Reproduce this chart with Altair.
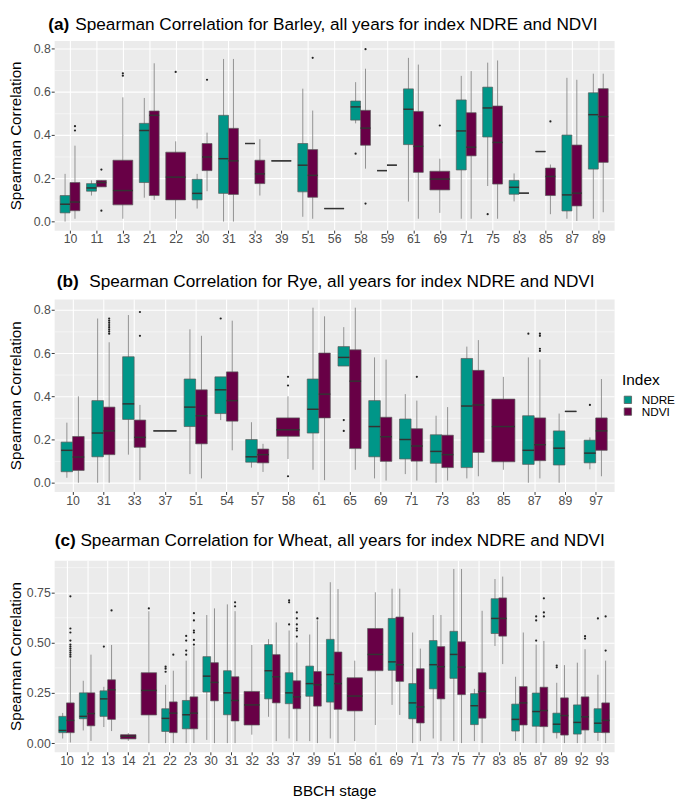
import altair as alt
import pandas as pd

TEAL = "#009688"
PURPLE = "#680046"
FONT = "Liberation Sans"

# ---------------- Panel (a) Barley ----------------
A_STAGES = ["10", "11", "13", "21", "22", "30", "31", "33", "39", "51", "56",
            "58", "59", "61", "69", "71", "75", "83", "85", "87", "89"]
A_STAGE = ["10", "10", "11", "11", "13", "21", "21", "22", "30", "30", "31", "31",
           "33", "33", "39", "51", "51", "56", "58", "58", "59", "59", "61", "61",
           "69", "71", "71", "75", "75", "83", "83", "85", "85", "87", "87", "89", "89"]
A_INDEX = ["NDRE", "NDVI", "NDRE", "NDVI", "NDVI", "NDRE", "NDVI", "NDVI", "NDRE", "NDVI",
           "NDRE", "NDVI", "NDRE", "NDVI", "NDRE", "NDRE", "NDVI", "NDRE", "NDRE", "NDVI",
           "NDRE", "NDVI", "NDRE", "NDVI", "NDVI", "NDRE", "NDVI", "NDRE", "NDVI", "NDRE",
           "NDVI", "NDRE", "NDVI", "NDRE", "NDVI", "NDRE", "NDVI"]
A_LO = [0.000, 0.013, 0.120, 0.160, 0.013, 0.110, 0.100, 0.013, 0.060, 0.140, 0.000, 0.000,
        0.360, 0.120, 0.280, 0.022, 0.013, 0.060, 0.453, 0.244, 0.235, 0.260, 0.092, 0.013,
        0.040, 0.013, 0.013, 0.164, 0.013, 0.093, 0.131, 0.323, 0.034, 0.013, 0.003, 0.013, 0.043]
A_Q1 = [0.040, 0.050, 0.140, 0.160, 0.077, 0.180, 0.120, 0.100, 0.100, 0.235, 0.130, 0.125,
        0.360, 0.175, 0.280, 0.137, 0.112, 0.060, 0.468, 0.352, 0.235, 0.260, 0.355, 0.227,
        0.146, 0.238, 0.303, 0.390, 0.173, 0.126, 0.131, 0.323, 0.120, 0.049, 0.072, 0.242, 0.273]
A_MED = [0.080, 0.090, 0.155, 0.180, 0.143, 0.420, 0.490, 0.205, 0.130, 0.298, 0.290, 0.280,
         0.360, 0.220, 0.280, 0.260, 0.213, 0.060, 0.529, 0.431, 0.235, 0.260, 0.518, 0.347,
         0.196, 0.418, 0.343, 0.524, 0.365, 0.158, 0.131, 0.323, 0.208, 0.123, 0.131, 0.493, 0.484]
A_Q3 = [0.120, 0.180, 0.175, 0.190, 0.283, 0.453, 0.510, 0.320, 0.195, 0.360, 0.490, 0.430,
        0.360, 0.283, 0.280, 0.360, 0.332, 0.060, 0.556, 0.513, 0.235, 0.260, 0.612, 0.508,
        0.232, 0.561, 0.502, 0.620, 0.533, 0.190, 0.131, 0.323, 0.247, 0.399, 0.353, 0.594, 0.613]
A_HI = [0.220, 0.350, 0.190, 0.190, 0.573, 0.570, 0.730, 0.370, 0.220, 0.410, 0.750, 0.750,
        0.360, 0.380, 0.280, 0.613, 0.512, 0.060, 0.643, 0.705, 0.235, 0.260, 0.755, 0.724,
        0.290, 0.672, 0.694, 0.733, 0.743, 0.222, 0.131, 0.323, 0.263, 0.663, 0.654, 0.682, 0.682]
A_OUT_STAGE = ["10", "10", "11", "11", "13", "13", "22", "30", "51", "58", "58", "58", "69", "75", "85"]
A_OUT_INDEX = ["NDVI", "NDVI", "NDVI", "NDVI", "NDVI", "NDVI", "NDVI", "NDVI", "NDVI",
               "NDRE", "NDVI", "NDVI", "NDVI", "NDRE", "NDVI"]
A_OUT_VAL = [0.44, 0.42, 0.24, 0.05, 0.684, 0.673, 0.69, 0.654, 0.755, 0.313, 0.795, 0.083,
             0.443, 0.034, 0.462]

# ---------------- Panel (b) Rye ----------------
B_STAGES = ["10", "31", "33", "37", "51", "54", "57", "58", "61", "65", "69", "71",
            "73", "83", "85", "87", "89", "97"]
B_STAGE = ["10", "10", "31", "31", "33", "33", "37", "51", "51", "54", "54", "57", "57",
           "58", "61", "61", "65", "65", "69", "69", "71", "71", "73", "73", "83", "83",
           "85", "87", "87", "89", "89", "97", "97"]
B_INDEX = ["NDRE", "NDVI", "NDRE", "NDVI", "NDRE", "NDVI", "NDRE", "NDRE", "NDVI", "NDRE",
           "NDVI", "NDRE", "NDVI", "NDVI", "NDRE", "NDVI", "NDRE", "NDVI", "NDRE", "NDVI",
           "NDRE", "NDVI", "NDRE", "NDVI", "NDRE", "NDVI", "NDVI", "NDRE", "NDVI", "NDRE",
           "NDVI", "NDRE", "NDVI"]
B_LO = [0.023, 0.000, 0.000, 0.000, 0.130, 0.012, 0.240, 0.040, 0.020, 0.290, 0.150, 0.070,
        0.050, 0.110, 0.060, 0.012, 0.540, 0.060, 0.020, 0.010, 0.040, 0.010, 0.000, 0.010,
        0.020, 0.030, 0.060, 0.000, 0.020, 0.000, 0.330, 0.062, 0.030]
B_Q1 = [0.051, 0.057, 0.120, 0.130, 0.293, 0.164, 0.240, 0.260, 0.180, 0.320, 0.285, 0.095,
        0.092, 0.215, 0.230, 0.300, 0.540, 0.158, 0.120, 0.099, 0.110, 0.100, 0.090, 0.070,
        0.070, 0.140, 0.097, 0.085, 0.102, 0.082, 0.330, 0.092, 0.150]
B_MED = [0.150, 0.119, 0.230, 0.240, 0.365, 0.210, 0.240, 0.350, 0.310, 0.430, 0.380, 0.120,
         0.130, 0.245, 0.340, 0.410, 0.580, 0.470, 0.260, 0.213, 0.200, 0.170, 0.145, 0.130,
         0.355, 0.360, 0.260, 0.150, 0.176, 0.160, 0.330, 0.137, 0.240]
B_Q3 = [0.188, 0.214, 0.380, 0.350, 0.583, 0.290, 0.240, 0.480, 0.430, 0.490, 0.513, 0.200,
        0.156, 0.300, 0.480, 0.600, 0.630, 0.615, 0.380, 0.303, 0.295, 0.250, 0.222, 0.220,
        0.575, 0.520, 0.387, 0.310, 0.300, 0.240, 0.330, 0.197, 0.300]
B_HI = [0.278, 0.400, 0.760, 0.650, 0.776, 0.360, 0.240, 0.710, 0.680, 0.490, 0.750, 0.280,
        0.180, 0.400, 0.810, 0.770, 0.720, 0.810, 0.580, 0.570, 0.410, 0.380, 0.310, 0.350,
        0.630, 0.660, 0.490, 0.580, 0.570, 0.320, 0.330, 0.210, 0.480]
B_OUT_STAGE = ["31", "31", "31", "31", "31", "31", "31", "31", "33", "33", "54", "58", "58",
               "58", "65", "65", "71", "87", "87", "87", "87", "87", "97"]
B_OUT_INDEX = ["NDVI", "NDVI", "NDVI", "NDVI", "NDVI", "NDVI", "NDVI", "NDVI", "NDVI", "NDVI",
               "NDRE", "NDVI", "NDVI", "NDVI", "NDRE", "NDRE", "NDVI", "NDRE", "NDVI", "NDVI",
               "NDVI", "NDVI", "NDRE"]
B_OUT_VAL = [0.69, 0.70, 0.71, 0.72, 0.73, 0.74, 0.75, 0.76, 0.79, 0.68, 0.76, 0.49, 0.45,
             0.03, 0.29, 0.24, 0.49, 0.69, 0.69, 0.68, 0.62, 0.61, 0.36]

# ---------------- Panel (c) Wheat ----------------
C_STAGES = ["10", "12", "13", "14", "21", "22", "23", "30", "31", "32", "33", "37", "39",
            "51", "58", "61", "69", "71", "73", "75", "77", "83", "85", "87", "89", "92", "93"]
C_STAGE = ["10", "10", "12", "12", "13", "13", "14", "21", "22", "22", "23", "23", "30", "30",
           "31", "31", "32", "33", "33", "37", "37", "39", "39", "51", "51", "58", "61", "69",
           "69", "71", "71", "73", "73", "75", "75", "77", "77", "83", "83", "85", "85", "87",
           "87", "89", "89", "92", "92", "93", "93"]
C_INDEX = ["NDRE", "NDVI", "NDRE", "NDVI", "NDRE", "NDVI", "NDVI", "NDVI", "NDRE", "NDVI",
           "NDRE", "NDVI", "NDRE", "NDVI", "NDRE", "NDVI", "NDVI", "NDRE", "NDVI", "NDRE",
           "NDVI", "NDRE", "NDVI", "NDRE", "NDVI", "NDVI", "NDVI", "NDRE", "NDVI", "NDRE",
           "NDVI", "NDRE", "NDVI", "NDRE", "NDVI", "NDRE", "NDVI", "NDRE", "NDVI", "NDRE",
           "NDVI", "NDRE", "NDVI", "NDRE", "NDVI", "NDRE", "NDVI", "NDRE", "NDVI"]
C_LO = [0.023, 0.003, 0.063, 0.011, 0.080, 0.060, 0.011, 0.000, 0.000, 0.000, 0.000, 0.000,
        0.016, 0.000, 0.000, 0.000, 0.042, 0.131, 0.010, 0.023, 0.010, 0.010, 0.000, 0.023,
        0.000, 0.010, 0.090, 0.190, 0.140, 0.000, 0.010, 0.023, 0.010, 0.010, 0.000, 0.010,
        0.000, 0.483, 0.393, 0.011, 0.000, 0.000, 0.000, 0.023, 0.000, 0.000, 0.000, 0.011, 0.000]
C_Q1 = [0.052, 0.052, 0.121, 0.086, 0.133, 0.118, 0.021, 0.140, 0.058, 0.052, 0.071, 0.071,
        0.254, 0.210, 0.141, 0.110, 0.090, 0.220, 0.200, 0.196, 0.171, 0.233, 0.184, 0.204,
        0.168, 0.160, 0.360, 0.362, 0.307, 0.121, 0.100, 0.270, 0.220, 0.322, 0.241, 0.092,
        0.124, 0.545, 0.532, 0.060, 0.090, 0.084, 0.082, 0.052, 0.040, 0.045, 0.065, 0.053, 0.052]
C_MED = [0.063, 0.113, 0.133, 0.147, 0.220, 0.265, 0.034, 0.262, 0.123, 0.149, 0.141, 0.149,
         0.333, 0.302, 0.250, 0.212, 0.190, 0.360, 0.330, 0.250, 0.230, 0.296, 0.290, 0.341,
         0.296, 0.234, 0.441, 0.404, 0.390, 0.200, 0.180, 0.390, 0.380, 0.441, 0.378, 0.186,
         0.257, 0.620, 0.620, 0.118, 0.200, 0.157, 0.162, 0.094, 0.137, 0.103, 0.131, 0.099, 0.113]
C_Q3 = [0.133, 0.200, 0.250, 0.250, 0.260, 0.315, 0.042, 0.350, 0.171, 0.205, 0.212, 0.230,
        0.430, 0.400, 0.360, 0.330, 0.257, 0.490, 0.440, 0.350, 0.310, 0.383, 0.356, 0.516,
        0.453, 0.325, 0.570, 0.620, 0.627, 0.296, 0.370, 0.510, 0.480, 0.556, 0.504, 0.246,
        0.350, 0.718, 0.722, 0.194, 0.281, 0.249, 0.278, 0.149, 0.225, 0.190, 0.230, 0.171, 0.200]
C_HI = [0.150, 0.420, 0.310, 0.440, 0.280, 0.488, 0.050, 0.656, 0.290, 0.360, 0.410, 0.480,
        0.637, 0.670, 0.690, 0.656, 0.488, 0.517, 0.600, 0.560, 0.500, 0.540, 0.610, 0.800,
        0.766, 0.410, 0.750, 0.768, 0.768, 0.550, 0.470, 0.637, 0.637, 0.866, 0.866, 0.270,
        0.658, 0.816, 0.828, 0.330, 0.550, 0.490, 0.508, 0.300, 0.388, 0.400, 0.467, 0.340, 0.410]
C_OUT_STAGE = ["10"] * 11 + ["13", "13", "21", "22", "22", "22", "22", "23", "23", "23", "23",
               "23", "23", "23", "23", "23", "23", "31", "31", "37", "37", "37", "37", "37",
               "37", "37", "37", "37", "39", "87", "87", "87", "87", "87", "87", "89", "89",
               "92", "92", "93", "93", "93"]
C_OUT_INDEX = ["NDVI"] * 11 + ["NDRE", "NDVI", "NDVI", "NDRE", "NDRE", "NDRE", "NDVI", "NDRE",
               "NDRE", "NDRE", "NDRE", "NDVI", "NDVI", "NDVI", "NDVI", "NDVI", "NDVI", "NDVI",
               "NDVI", "NDRE", "NDRE", "NDRE", "NDVI", "NDVI", "NDVI", "NDVI", "NDVI", "NDVI",
               "NDVI", "NDRE", "NDRE", "NDRE", "NDVI", "NDVI", "NDVI", "NDRE", "NDRE", "NDVI",
               "NDVI", "NDRE", "NDVI", "NDVI"]
C_OUT_VAL = [0.43, 0.44, 0.45, 0.46, 0.47, 0.48, 0.49, 0.51, 0.55, 0.57, 0.73,
             0.48, 0.66, 0.67, 0.38, 0.37, 0.355, 0.44, 0.533, 0.51, 0.46, 0.44, 0.646, 0.61,
             0.56, 0.55, 0.513, 0.49, 0.70, 0.68, 0.71, 0.70, 0.59, 0.65, 0.62, 0.59, 0.57,
             0.56, 0.53, 0.62, 0.51, 0.61, 0.63, 0.63, 0.65, 0.72, 0.386, 0.377, 0.532, 0.52,
             0.62, 0.63, 0.46]

TITLE_TAGS = ["(a)", "(b)", "(c)"]
TITLE_TEXTS = ["Spearman Correlation for Barley, all years for index NDRE and NDVI",
               "Spearman Correlation for Rye, all years for index NDRE and NDVI",
               "Spearman Correlation for Wheat, all years for index NDRE and NDVI"]
INDEX_NAMES = ["NDRE", "NDVI"]


def build_tables(stages, st, ix, lo, q1, md, q3, hi, ost, oix, oval):
    box = pd.DataFrame(dict(stage=st, index=ix, lo=lo, q1=q1, med=md, q3=q3, hi=hi))
    pos = {s: i for i, s in enumerate(stages)}
    box["pos"] = box["stage"].map(pos)
    cnt = box.groupby("stage")["index"].transform("count")
    dodge = box["index"].map({"NDRE": -0.1875, "NDVI": 0.1875})
    box["xc"] = box["pos"] + dodge.where(cnt > 1, 0.0)
    half = pd.Series(0.1875, index=box.index).where(cnt > 1, 0.375)
    box["xl"] = box["xc"] - half
    box["xr"] = box["xc"] + half
    out = pd.DataFrame(dict(stage=ost, index=oix, val=oval))
    out = out.merge(box[["stage", "index", "xc"]], on=["stage", "index"], how="left")
    vmin = min(box["lo"].min(), out["val"].min())
    vmax = max(box["hi"].max(), out["val"].max())
    rng = vmax - vmin
    return box, out, [vmin - 0.05 * rng, vmax + 0.05 * rng]


def panel(stages, tables, tag, text, width, height, yvals, step, fmt, ytp,
          tag_dx, text_dx, title_dy, xtitle, legend):
    box, out, ydom = tables
    n = len(stages)
    arr = "[" + ",".join("'%s'" % s for s in stages) + "]"
    xscale = alt.Scale(domain=[-0.6, n - 1 + 0.6], nice=False, zero=False)
    xaxis = alt.Axis(values=list(range(n)), labelExpr=arr + "[datum.value]",
                     title=xtitle, titleFontSize=15.5, titleFontWeight="normal",
                     titleColor="#000000", titlePadding=17,
                     labelFontSize=12.5, labelColor="#4D4D4D", labelPadding=0,
                     labelFlush=False, labelOverlap=False, tickColor="#333333",
                     tickSize=3, domain=False, grid=True, gridColor="#FFFFFF",
                     gridWidth=1.1)
    minor = "round(datum.value/%s) %% 2 != 0" % step
    yscale = alt.Scale(domain=ydom, nice=False, zero=False)
    yaxis = alt.Axis(values=yvals,
                     labelExpr="round(datum.value/%s) %% 2 == 0 ? format(datum.value, '%s') : ''" % (step, fmt),
                     title="Spearman Correlation", titleFontSize=15.5,
                     titleFontWeight="normal", titleColor="#000000", titlePadding=ytp,
                     labelFontSize=12.5, labelColor="#4D4D4D", labelPadding=1,
                     labelFlush=False, labelOverlap=False, tickColor="#333333",
                     tickSize=3, domain=False, grid=True, gridColor="#FFFFFF",
                     gridWidth={"condition": {"test": minor, "value": 0.5}, "value": 1.1},
                     tickOpacity={"condition": {"test": minor, "value": 0}, "value": 1})
    color = alt.Color("index:N", scale=alt.Scale(domain=INDEX_NAMES, range=[TEAL, PURPLE]),
                      legend=legend)
    base = alt.Chart(box)
    whisk = base.mark_rule(color="#7A7A7A", strokeWidth=0.8).encode(
        x=alt.X("xc:Q", scale=xscale, axis=xaxis),
        y=alt.Y("lo:Q", scale=yscale, axis=yaxis), y2="hi:Q")
    bars = base.mark_bar(stroke="#5A5A5A", strokeWidth=0.7).encode(
        x=alt.X("xl:Q", scale=xscale, axis=xaxis), x2="xr:Q",
        y=alt.Y("q1:Q", scale=yscale, axis=yaxis), y2="q3:Q", color=color)
    meds = base.mark_rule(color="#333333", strokeWidth=1.5).encode(
        x=alt.X("xl:Q", scale=xscale, axis=xaxis), x2="xr:Q",
        y=alt.Y("med:Q", scale=yscale, axis=yaxis))
    pts = alt.Chart(out).mark_circle(size=5, color="#222222", opacity=1).encode(
        x=alt.X("xc:Q", scale=xscale, axis=xaxis),
        y=alt.Y("val:Q", scale=yscale, axis=yaxis))
    t1 = alt.Chart(pd.DataFrame({"t": [tag]})).mark_text(
        align="left", baseline="alphabetic", fontSize=17.5, fontWeight="bold",
        font=FONT, color="#000000").encode(text="t:N", x=alt.value(tag_dx),
                                           y=alt.value(-title_dy))
    t2 = alt.Chart(pd.DataFrame({"t": [text]})).mark_text(
        align="left", baseline="alphabetic", fontSize=17.5, fontWeight="normal",
        font=FONT, color="#000000").encode(text="t:N", x=alt.value(text_dx),
                                           y=alt.value(-title_dy))
    return alt.layer(whisk, bars, meds, pts, t1, t2).properties(width=width, height=height)


ta = build_tables(A_STAGES, A_STAGE, A_INDEX, A_LO, A_Q1, A_MED, A_Q3, A_HI,
                  A_OUT_STAGE, A_OUT_INDEX, A_OUT_VAL)
tb = build_tables(B_STAGES, B_STAGE, B_INDEX, B_LO, B_Q1, B_MED, B_Q3, B_HI,
                  B_OUT_STAGE, B_OUT_INDEX, B_OUT_VAL)
tc = build_tables(C_STAGES, C_STAGE, C_INDEX, C_LO, C_Q1, C_MED, C_Q3, C_HI,
                  C_OUT_STAGE, C_OUT_INDEX, C_OUT_VAL)

YV_AB = [0.0, 0.1, 0.2, 0.3, 0.4, 0.5, 0.6, 0.7, 0.8]
YV_C = [0.0, 0.125, 0.25, 0.375, 0.5, 0.625, 0.75, 0.875]

leg = alt.Legend(title="Index", orient="none", legendX=578, legendY=76,
                 titleFontSize=15.7, titleFontWeight="normal", titleColor="#000000",
                 labelFontSize=12, labelColor="#000000", symbolType="square",
                 symbolSize=56, symbolStrokeColor="#5A5A5A", symbolStrokeWidth=0.8,
                 rowPadding=0, padding=0, titlePadding=5, labelOffset=8)

pa = panel(A_STAGES, ta, TITLE_TAGS[0], TITLE_TEXTS[0], 570, 193, YV_AB, 0.1, ".1f", 10,
           -6, 21.5, 11, None, None)
pb = panel(B_STAGES, tb, TITLE_TAGS[1], TITLE_TEXTS[1], 570, 196, YV_AB, 0.1, ".1f", 10,
           2.7, 35.7, 12, None, leg)
pc = panel(C_STAGES, tc, TITLE_TAGS[2], TITLE_TEXTS[2], 570, 195, YV_C, 0.125, ".2f", 3,
           0.5, 26.7, 15, "BBCH stage", None)

chart = alt.concat(pa, pb, pc, columns=1, spacing=70, bounds="flush").resolve_scale(
    color="independent").properties(padding=0, background="#FFFFFF").configure(
    font=FONT).configure_view(fill="#EBEBEB", stroke="transparent")

chart.save("out.html", embed_options={"renderer": "svg", "actions": False})
